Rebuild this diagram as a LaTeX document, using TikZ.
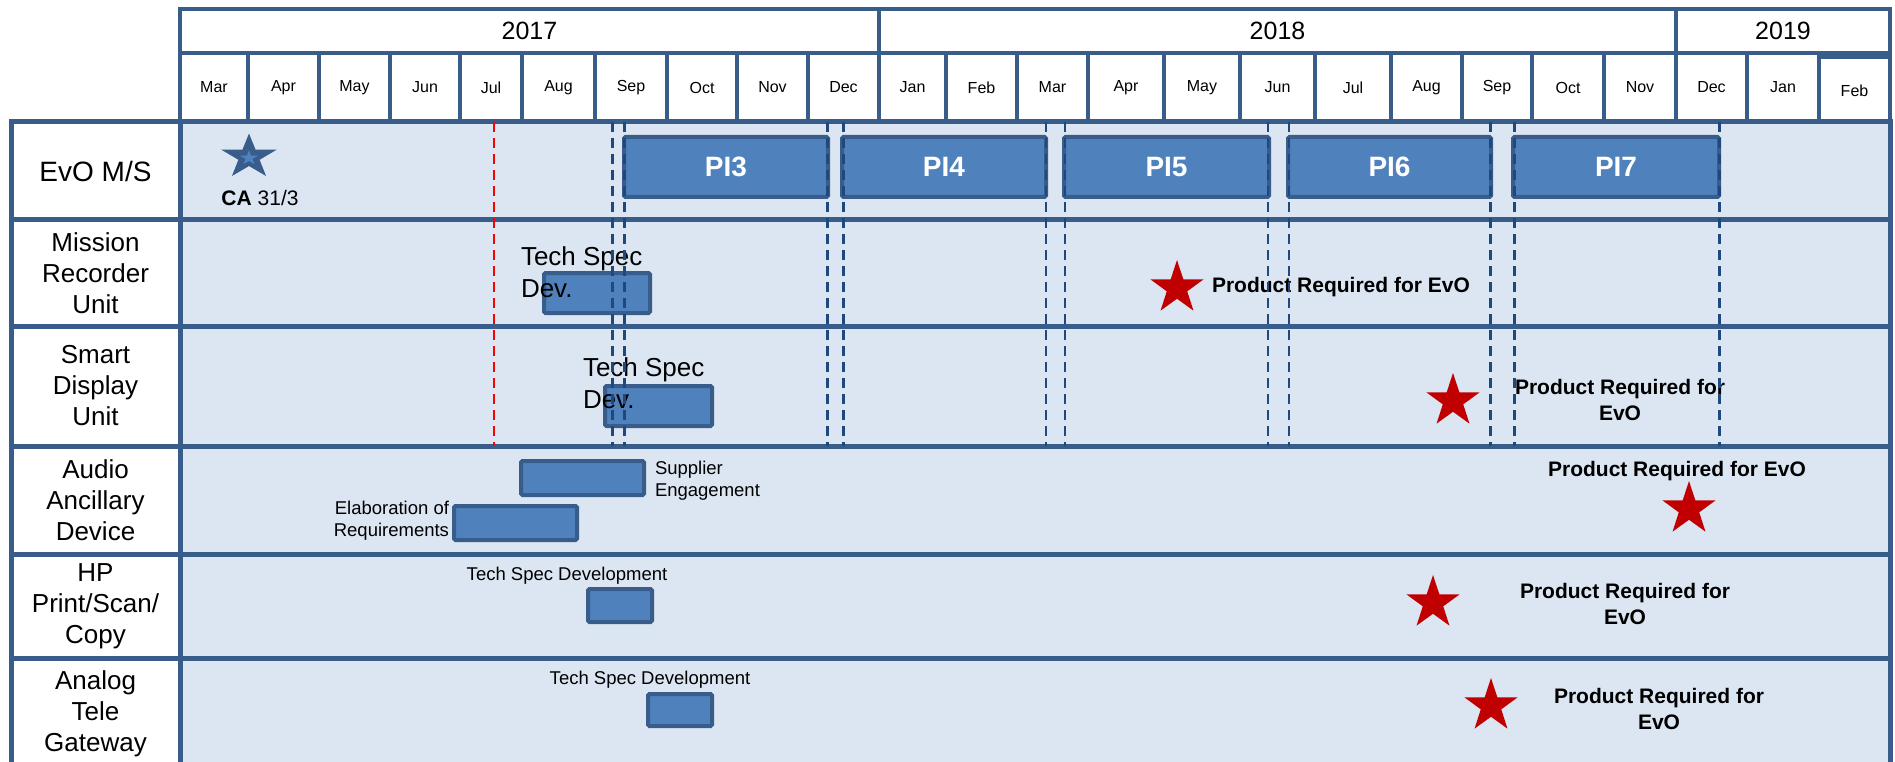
\documentclass[tikz,border=0pt]{standalone}
\usepackage{fontspec}
\setmainfont{Liberation Sans}
\usepackage{tikz}
\usetikzlibrary{shapes.geometric}
\definecolor{gridblue}{HTML}{385D8A}
\definecolor{rowblue}{HTML}{DCE6F2}
\definecolor{barblue}{HTML}{4F81BD}
\definecolor{guideblue}{HTML}{1F497D}
\definecolor{starred}{HTML}{C00000}
\tikzset{
    every node/.style={inner sep=0pt, outer sep=0pt, text=black}
}
\tikzset{
    cellbox/.style={rectangle, draw=gridblue, line width=4.5pt},
    yearcell/.style={cellbox, fill=white, minimum height=44pt,
    	font=\fontsize{25}{30}\selectfont},
    monthcell/.style={cellbox, fill=white, minimum height=69pt,
    	font=\fontsize{16}{19}\selectfont},
    labelcell/.style={cellbox, line width=5pt, fill=white, minimum width=169pt,
    	align=center, font=\fontsize{26}{31}\selectfont},
    rowcell/.style={cellbox, line width=5pt, fill=rowblue, minimum width=1710pt},
    taskbox/.style={rectangle, fill=barblue, draw=gridblue, line width=4pt,
    	rounded corners=1.5pt},
    pibox/.style={taskbox, minimum height=60pt, text=white,
    	font=\fontsize{28}{34}\selectfont\bfseries},
    milestone/.style={star, star points=5, star point ratio=2.6, fill=starred,
    	minimum size=56pt},
    castar/.style={star, star points=5, star point ratio=2.6, yscale=0.81},
    devtext/.style={align=left, font=\fontsize{26}{32}\selectfont},
    smalltext/.style={align=left, font=\fontsize{18.5}{22}\selectfont},
    evotext/.style={align=center, font=\fontsize{21}{25.5}\selectfont\bfseries},
    guideline/.style={draw=guideblue, line width=2.7pt, dash pattern=on 10pt off 6pt},
    redguide/.style={guideline, draw=red}
}

\begin{document}
\begin{tikzpicture}[x=1pt, y=-1pt]
	\useasboundingbox (0,0) rectangle (1895,762);
	\clip (0,0) rectangle (1895,762);
	\fill[white] (0,0) rectangle (1895,762);

	\node (y1) [yearcell, minimum width=699pt] at (529.5,31) {2017};
	\node (y2) [yearcell, minimum width=797pt] at (1277.5,31) {2018};
	\node (y3) [yearcell, minimum width=214pt] at (1783,31) {2019};

	\node (m1) [monthcell, minimum width=68pt] at (214,87.5) {Mar};
	\node (m2) [monthcell, minimum width=71pt] at (283.5,87.5) {Apr};
	\node (m3) [monthcell, minimum width=71pt] at (354.5,87.5) {May};
	\node (m4) [monthcell, minimum width=70pt] at (425,87.5) {Jun};
	\node (m5) [monthcell, minimum width=62pt] at (491,87.5) {Jul};
	\node (m6) [monthcell, minimum width=73pt] at (558.5,87.5) {Aug};
	\node (m7) [monthcell, minimum width=72pt] at (631,87.5) {Sep};
	\node (m8) [monthcell, minimum width=70pt] at (702,87.5) {Oct};
	\node (m9) [monthcell, minimum width=71pt] at (772.5,87.5) {Nov};
	\node (m10) [monthcell, minimum width=71pt] at (843.5,87.5) {Dec};
	\node (m11) [monthcell, minimum width=67pt] at (912.5,87.5) {Jan};
	\node (m12) [monthcell, minimum width=71pt] at (981.5,87.5) {Feb};
	\node (m13) [monthcell, minimum width=71pt] at (1052.5,87.5) {Mar};
	\node (m14) [monthcell, minimum width=76pt] at (1126,87.5) {Apr};
	\node (m15) [monthcell, minimum width=76pt] at (1202,87.5) {May};
	\node (m16) [monthcell, minimum width=75pt] at (1277.5,87.5) {Jun};
	\node (m17) [monthcell, minimum width=76pt] at (1353,87.5) {Jul};
	\node (m18) [monthcell, minimum width=71pt] at (1426.5,87.5) {Aug};
	\node (m19) [monthcell, minimum width=70pt] at (1497,87.5) {Sep};
	\node (m20) [monthcell, minimum width=72pt] at (1568,87.5) {Oct};
	\node (m21) [monthcell, minimum width=72pt] at (1640,87.5) {Nov};
	\node (m22) [monthcell, minimum width=71pt] at (1711.5,87.5) {Dec};
	\node (m23) [monthcell, minimum width=72pt] at (1783,87.5) {Jan};
	\node (m24) [monthcell, minimum width=71pt] at (1854.5,91) {Feb};

	\node (r1) [rowcell, minimum height=98pt] at (1035,171) {};
	\node (r2) [rowcell, minimum height=106pt] at (1035,273) {};
	\node (r3) [rowcell, minimum height=120pt] at (1035,386) {};
	\node (r4) [rowcell, minimum height=108pt] at (1035,500) {};
	\node (r5) [rowcell, minimum height=104pt] at (1035,606) {};
	\node (r6) [rowcell, minimum height=112pt] at (1035,714) {};

	\node (l1) [labelcell, minimum height=98pt, font=\fontsize{28}{33}\selectfont]
		at (95.5,171) {EvO M/S};
	\node (l2) [labelcell, minimum height=106pt] at (95.5,273) {Mission\\Recorder\\Unit};
	\node (l3) [labelcell, minimum height=120pt] at (95.5,386) {Smart\\Display\\Unit};
	\node (l4) [labelcell, minimum height=108pt] at (95.5,500) {Audio\\Ancillary\\Device};
	\node (l5) [labelcell, minimum height=104pt] at (95.5,606) {HP\\Print/Scan/\\Copy};
	\node (l6) [labelcell, minimum height=112pt] at (95.5,714) {Analog\\Tele\\Gateway};

	\node (p3) [pibox, minimum width=204pt] at (726,167) {PI3};
	\node (p4) [pibox, minimum width=204pt] at (944,167) {PI4};
	\node (p5) [pibox, minimum width=205pt] at (1166.5,167) {PI5};
	\node (p6) [pibox, minimum width=203pt] at (1389.5,167) {PI6};
	\node (p7) [pibox, minimum width=206pt] at (1616,167) {PI7};

	\node (s0) [castar, fill=gridblue, minimum size=58pt] at (249,157) {};
	\node (s0i) [castar, fill=barblue, minimum size=19pt] at (249,158) {};
	\node (ca) [font=\fontsize{21}{25}\selectfont] at (260,198) {\textbf{CA} 31/3};

	\node (b1) [taskbox, minimum width=106pt, minimum height=40pt] at (597,293) {};
	\node (b2) [taskbox, minimum width=107pt, minimum height=40pt] at (658.5,406) {};
	\node (b3) [taskbox, minimum width=123pt, minimum height=34pt] at (582.5,478) {};
	\node (b4) [taskbox, minimum width=123pt, minimum height=34pt] at (515.5,523) {};
	\node (b5) [taskbox, minimum width=64pt, minimum height=33pt] at (620,605.5) {};
	\node (b6) [taskbox, minimum width=64pt, minimum height=32pt] at (680,710) {};

	\node (t1) [devtext, anchor=west] at (521,272) {Tech Spec\\Dev.};
	\node (t2) [devtext, anchor=west] at (583,383) {Tech Spec\\Dev.};
	\node (t3) [smalltext, anchor=west] at (655,481) {Supplier\\Engagement};
	\node (t4) [smalltext, anchor=east, align=right] at (449,521) {Elaboration of\\Requirements};
	\node (t5) [smalltext] at (567,576) {Tech Spec Development};
	\node (t6) [smalltext] at (650,680) {Tech Spec Development};

	\node (s1) [milestone] at (1177,288) {};
	\node (s2) [milestone] at (1453,401) {};
	\node (s3) [milestone] at (1689,509) {};
	\node (s4) [milestone] at (1433,603) {};
	\node (s5) [milestone] at (1491,706) {};

	\node (e1) [evotext, anchor=west] at (1212,287) {Product Required for EvO};
	\node (e2) [evotext] at (1620,400) {Product Required for\\EvO};
	\node (e3) [evotext] at (1677,471) {Product Required for EvO};
	\node (e4) [evotext] at (1625,604) {Product Required for\\EvO};
	\node (e5) [evotext] at (1659,709) {Product Required for\\EvO};

	\draw[redguide] (494,122) -- (494,446);
	\draw[guideline] (612.5,122) -- (612.5,446); \draw[guideline] (624.3,122) -- (624.3,446);
	\draw[guideline] (827.7,122) -- (827.7,446); \draw[guideline] (843.3,122) -- (843.3,446);
	\draw[guideline] (1046,122) -- (1046,446); \draw[guideline] (1065,122) -- (1065,446);
	\draw[guideline] (1268,122) -- (1268,446); \draw[guideline] (1289,122) -- (1289,446);
	\draw[guideline] (1490.5,122) -- (1490.5,446); \draw[guideline] (1514.4,122) -- (1514.4,446);
	\draw[guideline] (1719.3,122) -- (1719.3,446);
\end{tikzpicture}
\end{document}
